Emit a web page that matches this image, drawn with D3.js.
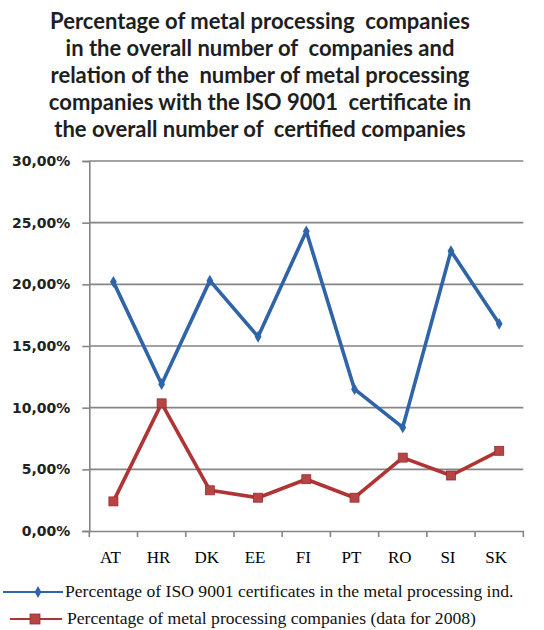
<!DOCTYPE html>
<html>
<head>
<meta charset="utf-8">
<script src="https://cdn.jsdelivr.net/npm/d3@7"></script>
<style>
  html, body { margin: 0; padding: 0; background: #fff; }
  svg { display: block; }
</style>
</head>
<body>
<div id="chart"></div>
<script>
const titleLines = [
  "Percentage of metal processing  companies",
  "in the overall number of  companies and",
  "relation of the  number of metal processing",
  "companies with the ISO 9001  certificate in",
  "the overall number of  certified companies"
];
const categories = ["AT", "HR", "DK", "EE", "FI", "PT", "RO", "SI", "SK"];
const isoShare = [0.202, 0.119, 0.203, 0.1575, 0.243, 0.115, 0.084, 0.227, 0.168];
const metalShare = [0.024, 0.1035, 0.033, 0.027, 0.042, 0.027, 0.0595, 0.045, 0.065];
const yTicks = [0, 0.05, 0.10, 0.15, 0.20, 0.25, 0.30];
const seriesNames = [
  "Percentage of ISO 9001 certificates in the metal processing ind.",
  "Percentage of metal processing companies (data for 2008)"
];

const W = 544, H = 630;
const svg = d3.select("#chart").append("svg").attr("width", W).attr("height", H);
svg.append("rect").attr("width", W).attr("height", H).attr("fill", "#fff");

const x = d3.scaleBand().domain(categories).range([89.3, 523.3]).padding(0);
const y = d3.scaleLinear().domain([0, 0.30]).range([531, 161]);
const gridColor = "#858585";

// Title
const title = svg.append("g").attr("font-family", "Lato, 'Open Sans', sans-serif")
  .attr("font-weight", 700).attr("font-size", 22).attr("fill", "#1e1e1e").attr("text-anchor", "middle");
titleLines.forEach((t, i) => {
  title.append("text").attr("x", 260).attr("y", 29 + i * 27).attr("xml:space", "preserve").text(t);
});

// Gridlines
svg.append("g").selectAll("line").data(yTicks.filter(d => d > 0)).join("line")
  .attr("x1", x.range()[0]).attr("x2", x.range()[1])
  .attr("y1", d => y(d)).attr("y2", d => y(d))
  .attr("stroke", gridColor).attr("stroke-width", 1.6);

// Y axis
const yAxis = d3.axisLeft(y).tickValues(yTicks).tickSize(7).tickPadding(12)
  .tickFormat(d => d3.format(".2f")(d * 100).replace(".", ",") + "%");
const gy = svg.append("g").attr("transform", `translate(${x.range()[0]},0)`).call(yAxis);
gy.select(".domain").attr("stroke", gridColor).attr("stroke-width", 1.6);
gy.selectAll(".tick line").attr("stroke", gridColor).attr("stroke-width", 1.6);
gy.selectAll(".tick text").attr("font-family", "'DejaVu Sans', sans-serif").attr("font-weight", 700)
  .attr("font-size", 14).attr("fill", "#222");

// X axis
const xAxis = d3.axisBottom(x).tickSize(0).tickPadding(20);
const gx = svg.append("g").attr("transform", `translate(0,${y(0)})`).call(xAxis);
gx.select(".domain").attr("stroke", gridColor).attr("stroke-width", 1.6);
gx.selectAll(".tick text").attr("font-family", "'Liberation Serif', serif").attr("font-size", 17)
  .attr("fill", "#000").attr("dx", -3);
const boundaries = categories.map(c => x(c)).concat([x.range()[1]]);
gx.append("g").selectAll("line").data(boundaries).join("line")
  .attr("x1", d => d).attr("x2", d => d).attr("y1", 0).attr("y2", 6)
  .attr("stroke", gridColor).attr("stroke-width", 1.6);

const cx = c => x(c) + x.bandwidth() / 2;
const blue = "#2f64a8", red = "#b03434";

const line = d3.line().x(d => cx(d.c)).y(d => y(d.v));
const isoData = categories.map((c, i) => ({ c, v: isoShare[i] }));
const metalData = categories.map((c, i) => ({ c, v: metalShare[i] }));

svg.append("path").datum(metalData).attr("d", line).attr("fill", "none")
  .attr("stroke", red).attr("stroke-width", 3.6).attr("stroke-linejoin", "round");
svg.append("g").selectAll("rect").data(metalData).join("rect")
  .attr("x", d => cx(d.c) - 4.5).attr("y", d => y(d.v) - 4.5).attr("width", 9).attr("height", 9)
  .attr("fill", "#b84545").attr("stroke", "#9a2c2c").attr("stroke-width", 0.8);

svg.append("path").datum(isoData).attr("d", line).attr("fill", "none")
  .attr("stroke", blue).attr("stroke-width", 3.6).attr("stroke-linejoin", "round");
const diamond = d3.symbol().type(d3.symbolDiamond).size(40);
svg.append("g").selectAll("path").data(isoData).join("path")
  .attr("transform", d => `translate(${cx(d.c)},${y(d.v)})`).attr("d", diamond)
  .attr("fill", blue);

// Legend
const legend = svg.append("g");
const legRows = [
  { name: seriesNames[0], color: blue, y: 592, marker: "diamond", tx: 65, ty: 597, x1: 3, x2: 63, mx: 38 },
  { name: seriesNames[1], color: red, y: 619, marker: "square", tx: 67, ty: 624, x1: 10, x2: 62, mx: 35 }
];
legRows.forEach(r => {
  legend.append("line").attr("x1", r.x1).attr("x2", r.x2).attr("y1", r.y).attr("y2", r.y)
    .attr("stroke", r.color).attr("stroke-width", 2);
  if (r.marker === "diamond") {
    legend.append("path").attr("transform", `translate(${r.mx},${r.y})`).attr("d", diamond).attr("fill", r.color);
  } else {
    legend.append("rect").attr("x", r.mx - 5).attr("y", r.y - 5).attr("width", 10).attr("height", 10)
      .attr("fill", "#b84545").attr("stroke", "#9a2c2c").attr("stroke-width", 0.8);
  }
  legend.append("text").attr("x", r.tx).attr("y", r.ty)
    .attr("font-family", "'Liberation Serif', serif").attr("font-size", 17.6).attr("fill", "#111")
    .text(r.name);
});
</script>
</body>
</html>
